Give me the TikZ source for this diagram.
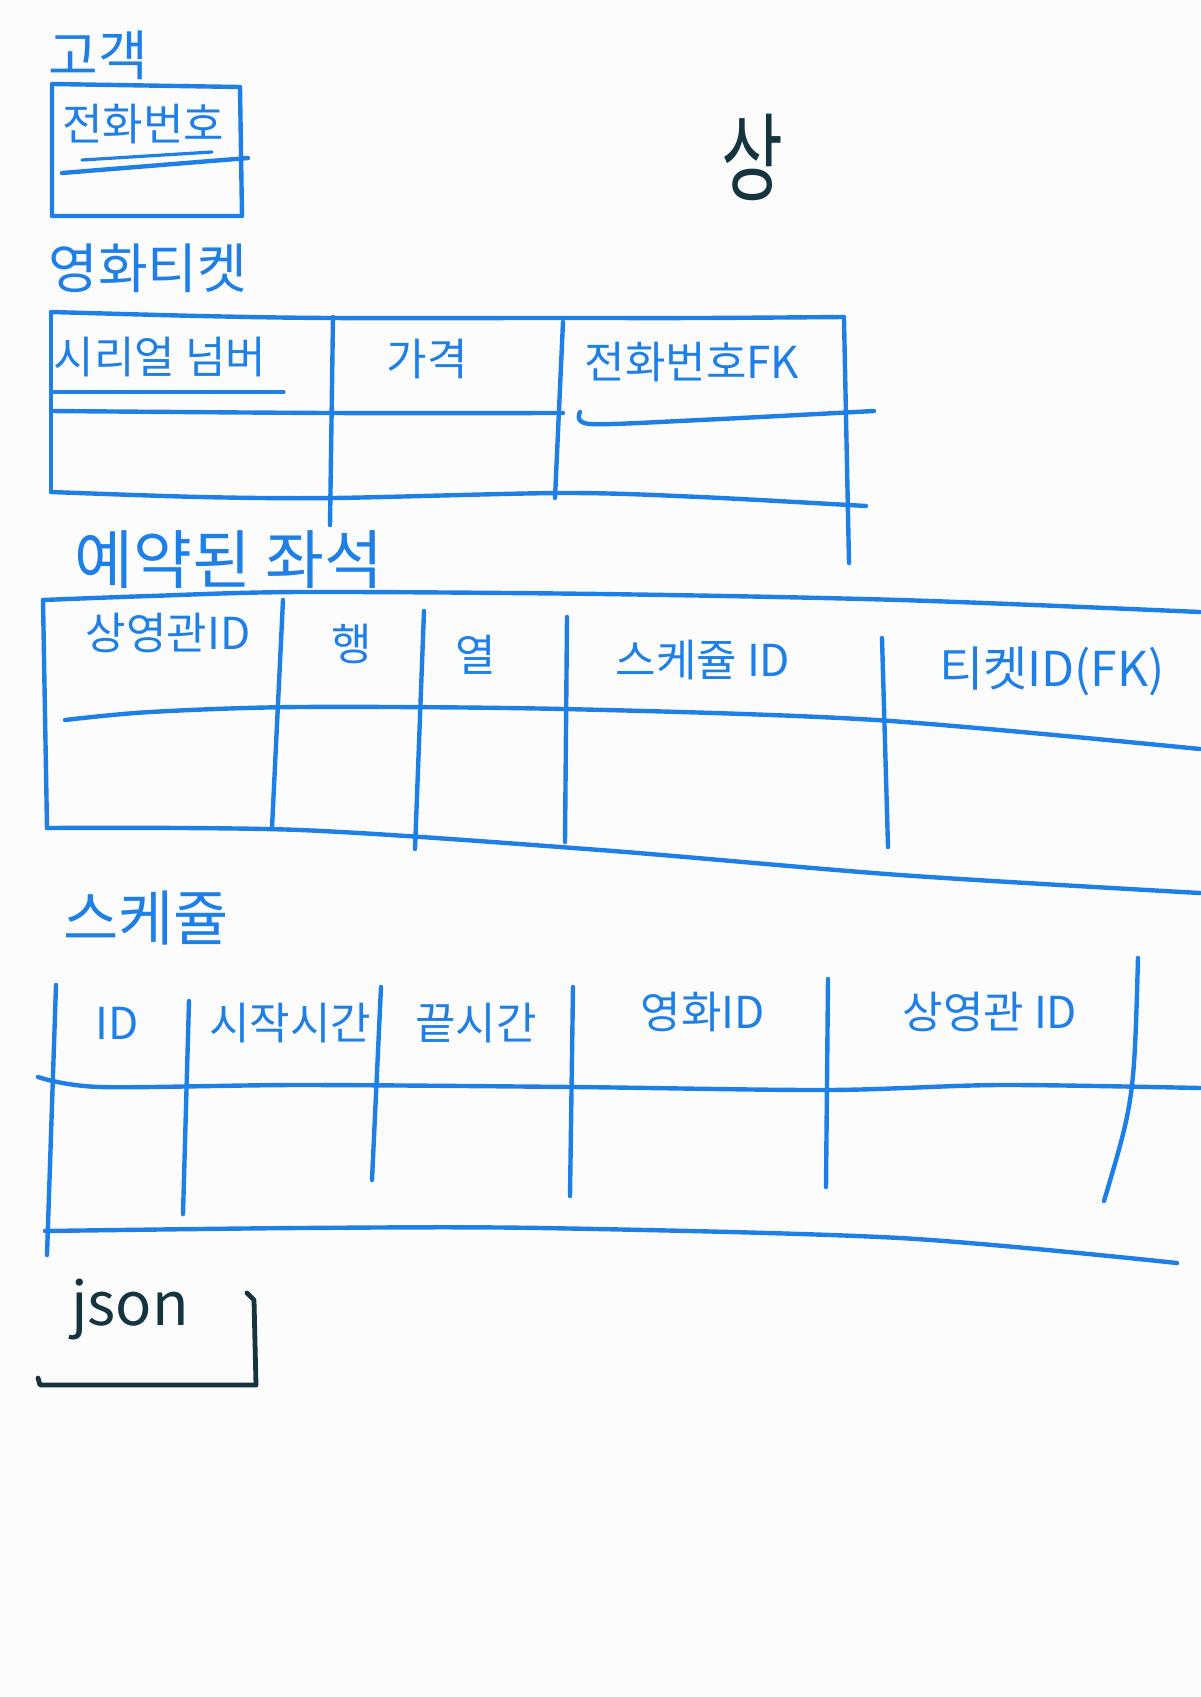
\documentclass[tikz,border=0pt]{standalone}
\usepackage{fontspec}
\newfontfamily\kr{Noto Sans CJK KR}
\definecolor{PenBlue}{RGB}{30,128,230}
\definecolor{PenDark}{RGB}{22,52,64}
\definecolor{Paper}{RGB}{252,252,253}
\tikzset{
  pen/.style    ={draw=PenBlue, line width=2.2pt, line cap=round, line join=round},
  penthin/.style={pen, line width=1.6pt},
  ink/.style    ={draw=PenDark, line width=2.4pt, line cap=round, line join=round},
  ttl/.style    ={text=PenBlue, font=\kr\fontsize{27}{30}\selectfont, inner sep=0pt},
  cell/.style   ={text=PenBlue, font=\kr\fontsize{22}{26}\selectfont, inner sep=0pt},
  inktxt/.style ={text=PenDark, inner sep=0pt},
}
\begin{document}
\begin{tikzpicture}[x=0.5pt,y=-0.5pt]
  \useasboundingbox[fill=Paper] (0,0) rectangle (1200,1697);

  % customer
  \node[ttl] (cust) at (98,55) {고객};
  \draw[pen] (52,84) -- (240,87) -- (242,216) -- (52,216) -- cycle;
  \draw[pen] (62,173) -- (248,158);
  \draw[penthin] (82,160) -- (212,152);
  \node[cell] (cPhone) at (143,124) {전화번호};

  \node[inktxt,font=\kr\fontsize{48}{54}\selectfont,xscale=0.7] (sang) at (752,157) {상};

  % movie ticket
  \node[ttl] (tick) at (148,268) {영화티켓};
  \draw[pen] plot[smooth] coordinates {(51,312) (200,316) (330,318) (560,318) (700,318) (844,317)};
  \draw[pen] (51,312) -- (51,492);
  \draw[pen] plot[smooth] coordinates {(51,411) (330,413) (563,413)};
  \draw[pen] plot[smooth] coordinates {(580,412) (590,424) (700,420) (874,411)};
  \draw[pen] plot[smooth] coordinates {(51,492) (200,497) (333,498) (563,493) (700,497) (866,506)};
  \foreach \xa/\ya/\xb/\yb in {333/317/330/525, 563/322/555/498, 844/319/849/563}
    {\draw[pen] (\xa,\ya) -- (\xb,\yb);}
  \draw[penthin] (54,392) -- (284,392);
  \node[cell] (tSerial) at (160,357) {시리얼 넘버};
  \node[cell] (tPrice)  at (427,359) {가격};
  \node[cell] (tPhone)  at (692,362) {전화번호FK};

  % reserved seat
  \node[ttl,font=\kr\fontsize{32}{36}\selectfont] (seat) at (229,560) {예약된 좌석};
  \draw[pen] plot[smooth] coordinates {(43,600) (150,596) (300,592) (600,594) (900,600) (1200,612)};
  \draw[pen] (43,600) -- (47,828);
  \draw[pen] plot[smooth] coordinates {(65,720) (150,712) (300,707) (563,709) (876,720) (1200,749)};
  \draw[pen] plot[smooth] coordinates {(47,828) (300,830) (600,850) (900,875) (1200,893)};
  \foreach \xa/\ya/\xb/\yb in {283/600/272/828, 424/611/415/849, 567/617/565/842, 882/638/888/847}
    {\draw[pen] (\xa,\ya) -- (\xb,\yb);}
  \node[cell] (sHall)  at (168,633) {상영관ID};
  \node[cell] (sRow)   at (352,644) {행};
  \node[cell] (sCol)   at (476,655) {열};
  \node[cell] (sSched) at (703,660) {스케쥴 ID};
  \node[cell,font=\kr\fontsize{24}{28}\selectfont] (sTick) at (1052,671) {티켓ID(FK)};

  % schedule
  \node[ttl,font=\kr\fontsize{30}{34}\selectfont] (sched) at (146,918) {스케쥴};
  \draw[pen] (56,985) -- (47,1255);
  \draw[pen] plot[smooth] coordinates {(38,1077) (100,1087) (300,1085) (573,1087) (828,1090) (1000,1085) (1200,1088)};
  \draw[pen] plot[smooth] coordinates {(45,1231) (300,1228) (541,1228) (900,1238) (1177,1263)};
  \foreach \xa/\ya/\xb/\yb in {189/1001/183/1214, 381/987/372/1180, 573/987/570/1196, 828/979/826/1187}
    {\draw[pen] (\xa,\ya) -- (\xb,\yb);}
  \draw[pen] (1138,958) .. controls (1134,1100) .. (1104,1201);
  \node[cell] (hId)    at (117,1023) {ID};
  \node[cell] (hStart) at (290,1023) {시작시간};
  \node[cell] (hEnd)   at (476,1023) {끝시간};
  \node[cell] (hMovie) at (703,1012) {영화ID};
  \node[cell] (hHall)  at (990,1012) {상영관 ID};

  % json
  \node[inktxt,font=\kr\fontsize{30}{34}\selectfont] (json) at (130,1309) {json};
  \draw[ink] (247,1293) -- (254,1300) -- (256,1385) -- (40,1385) -- (38,1378);
\end{tikzpicture}
\end{document}
